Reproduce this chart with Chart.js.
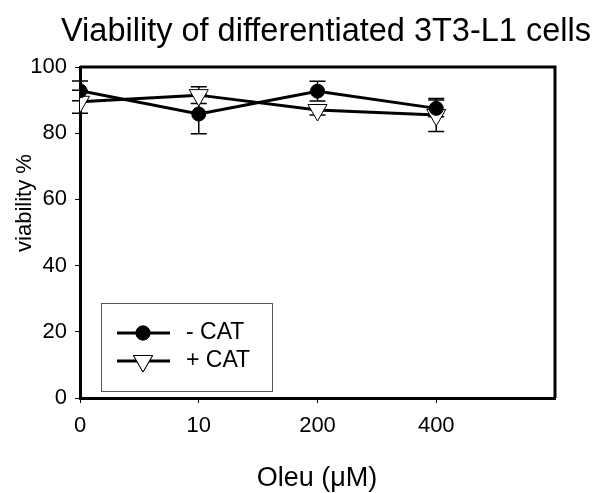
<!DOCTYPE html>
<html>
<head>
<meta charset="utf-8">
<script src="https://cdn.jsdelivr.net/npm/chart.js@4/dist/chart.umd.min.js"></script>
<style>
  html, body { margin: 0; padding: 0; background: #fff; }
  #wrap { width: 595px; height: 493px; }
</style>
</head>
<body>
<div id="wrap"><canvas id="viab"></canvas></div>
<script>
// categories (x positions are the index, label is the dose)
const doseLabels = ['0', '10', '200', '400'];
// - CAT (filled circles)
const minusCat = [92.8, 85.8, 92.7, 87.5];
const minusCatErr = [3, 6, 3, 2.5];
// + CAT (open down triangles)
const plusCat = [89.5, 91.5, 87, 85.5];
const plusCatErr = [3.5, 2.5, 1.5, 5];
const yTicks = [0, 20, 40, 60, 80, 100];

const FONT = 'Liberation Sans, Arial, sans-serif';

const toPts = (vals) => vals.map((v, i) => ({ x: i, y: v }));

// error bars drawn from the arrays above
const errBars = {
  id: 'errBars',
  beforeDatasetsDraw(chart) {
    const ctx = chart.ctx;
    const xs = chart.scales.x, ys = chart.scales.y;
    chart.data.datasets.forEach((ds) => {
      ctx.save();
      ctx.strokeStyle = '#000';
      ctx.lineWidth = 1.5;
      ds.errs.forEach((e, i) => {
        const px = xs.getPixelForValue(i);
        const top = ys.getPixelForValue(ds.data[i].y + e);
        const bot = ys.getPixelForValue(ds.data[i].y - e);
        ctx.beginPath();
        ctx.moveTo(px, top); ctx.lineTo(px, bot);
        ctx.moveTo(px - 8, top); ctx.lineTo(px + 8, top);
        ctx.moveTo(px - 8, bot); ctx.lineTo(px + 8, bot);
        ctx.stroke();
      });
      ctx.restore();
    });
  }
};

// frame, title, axis titles and the boxed legend
const decor = {
  id: 'decor',
  afterDraw(chart) {
    const ctx = chart.ctx;
    const a = chart.chartArea;
    ctx.save();
    ctx.strokeStyle = '#000';
    ctx.lineWidth = 3;
    ctx.beginPath();
    ctx.moveTo(a.left, a.top); ctx.lineTo(a.right, a.top); ctx.lineTo(a.right, a.bottom);
    ctx.stroke();

    ctx.fillStyle = '#000';
    ctx.textAlign = 'center';
    ctx.textBaseline = 'middle';
    ctx.font = '32.5px ' + FONT;
    ctx.fillText('Viability of differentiated 3T3-L1 cells', 326, 32);
    ctx.font = '27px ' + FONT;
    ctx.fillText('Oleu (\u03bcM)', 317, 479);
    ctx.save();
    ctx.translate(25, 203);
    ctx.rotate(-Math.PI / 2);
    ctx.font = '22px ' + FONT;
    ctx.fillText('viability %', 0, 0);
    ctx.restore();

    // legend
    ctx.lineWidth = 1;
    ctx.strokeStyle = '#555';
    ctx.strokeRect(101.5, 303.5, 171, 88);
    const rows = [333, 361];
    chart.data.datasets.forEach((ds, k) => {
      const y = rows[k];
      ctx.strokeStyle = '#000';
      ctx.lineWidth = 3;
      ctx.beginPath(); ctx.moveTo(117, y); ctx.lineTo(170, y); ctx.stroke();
      ctx.lineWidth = 1;
      Chart.helpers.drawPoint(ctx, {
        pointStyle: ds.pointStyle, radius: ds.pointRadius, rotation: ds.rotation,
        borderWidth: 1
      }, 143, y);
      ctx.fillStyle = ds.pointBackgroundColor;
      ctx.fill();
      ctx.stroke();
      ctx.fillStyle = '#000';
      ctx.textAlign = 'left';
      ctx.font = '23px ' + FONT;
      ctx.fillText(ds.label, 186, y);
    });
    ctx.restore();
  }
};

new Chart(document.getElementById('viab'), {
  type: 'line',
  data: {
    datasets: [
      {
        label: '- CAT',
        data: toPts(minusCat),
        errs: minusCatErr,
        borderColor: '#000',
        borderWidth: 3,
        pointStyle: 'circle',
        pointRadius: 7,
        rotation: 0,
        pointBackgroundColor: '#000',
        pointBorderColor: '#000',
        pointBorderWidth: 1
      },
      {
        label: '+ CAT',
        data: toPts(plusCat),
        errs: plusCatErr,
        borderColor: '#000',
        borderWidth: 3,
        pointStyle: 'triangle',
        pointRadius: 11,
        rotation: 180,
        pointBackgroundColor: '#fff',
        pointBorderColor: '#000',
        pointBorderWidth: 1
      }
    ]
  },
  options: {
    responsive: true,
    maintainAspectRatio: false,
    animation: false,
    layout: { padding: { left: 0, right: 40, top: 67, bottom: 0 } },
    plugins: {
      legend: { display: false },
      title: { display: false },
      tooltip: { enabled: false }
    },
    scales: {
      x: {
        type: 'linear',
        min: 0,
        max: 4,
        afterFit: (s) => { s.height = 95; },
        afterBuildTicks: (s) => { s.ticks = doseLabels.map((_, i) => ({ value: i })); },
        ticks: {
          color: '#000',
          font: { family: FONT, size: 22 },
          padding: 10,
          callback: (v) => doseLabels[v]
        },
        grid: { drawOnChartArea: false, drawTicks: true, tickLength: 5, color: '#000', tickWidth: 1 },
        border: { display: true, color: '#000', width: 3 }
      },
      y: {
        min: 0,
        max: 100,
        afterFit: (s) => { s.width = 80; },
        afterBuildTicks: (s) => { s.ticks = yTicks.map((v) => ({ value: v })); },
        ticks: {
          color: '#000',
          font: { family: FONT, size: 22 },
          padding: 8
        },
        grid: { drawOnChartArea: false, drawTicks: true, tickLength: 5, color: '#000', tickWidth: 1 },
        border: { display: true, color: '#000', width: 3 }
      }
    }
  },
  plugins: [errBars, decor]
});
</script>
</body>
</html>
